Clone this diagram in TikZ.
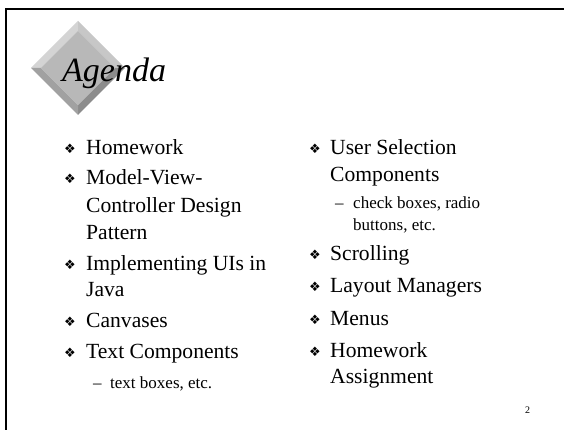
\documentclass[tikz,border=0pt]{standalone}
\usepackage{fontspec}
\setmainfont{Liberation Serif}
\newfontfamily\dingfont{DejaVu Sans}

\begin{document}
\begin{tikzpicture}[x=1pt,y=-1pt]
\tikzstyle{every node}+=[inner sep=0pt,anchor=base west]
\tikzstyle{itemtext}=[font=\fontsize{21.6}{26}\selectfont]
\tikzstyle{subtext}=[font=\fontsize{17}{20}\selectfont]
\tikzstyle{bul}=[font=\dingfont\fontsize{13}{13}\selectfont]
\useasboundingbox (0,0) rectangle (564,430);
\fill [white] (0,0) rectangle (564,430);
% frame
\draw [black, line width=2pt] (5.7,430) -- (5.7,9.2) -- (564,9.2);
% bevelled diamond
\coordinate (ot) at (78,21);
\coordinate (orr) at (125,68);
\coordinate (ob) at (78,115);
\coordinate (ol) at (31,68);
\coordinate (it) at (78,31);
\coordinate (ir) at (115,68);
\coordinate (ib) at (78,105);
\coordinate (il) at (41,68);
\fill [black!17] (ol) -- (ot) -- (it) -- (il) -- cycle;
\fill [black!22] (ot) -- (orr) -- (ir) -- (it) -- cycle;
\fill [black!45] (orr) -- (ob) -- (ib) -- (ir) -- cycle;
\fill [black!37] (ob) -- (ol) -- (il) -- (ib) -- cycle;
\fill [black!28] (it) -- (ir) -- (ib) -- (il) -- cycle;
\draw (62,81.5) node (title) [font=\fontsize{34}{34}\selectfont\itshape] {Agenda};
% left column
\draw (64,154) node (b1) [bul] {❖};
\draw (86,155) node (hw) [itemtext] {Homework};
\draw (64,184) node (b2) [bul] {❖};
\draw (86,185) node (mvc1) [itemtext] {Model-View-};
\draw (86,212) node (mvc2) [itemtext] {Controller Design};
\draw (86,239) node (mvc3) [itemtext] {Pattern};
\draw (64,269) node (b3) [bul] {❖};
\draw (86,270) node (impl1) [itemtext] {Implementing UIs in};
\draw (86,296) node (impl2) [itemtext] {Java};
\draw (64,326) node (b4) [bul] {❖};
\draw (86,327) node (canv) [itemtext] {Canvases};
\draw (64,357) node (b5) [bul] {❖};
\draw (86,358) node (txt) [itemtext] {Text Components};
\draw (93,388) node (d1) [subtext] {–};
\draw (110,388) node (txtsub) [subtext] {text boxes, etc.};
% right column
\draw (309,154) node (b6) [bul] {❖};
\draw (330,155) node (sel1) [itemtext] {User Selection};
\draw (330,182) node (sel2) [itemtext] {Components};
\draw (335,209) node (d2) [subtext] {–};
\draw (353,209) node (selsub1) [subtext] {check boxes, radio};
\draw (353,230) node (selsub2) [subtext] {buttons, etc.};
\draw (309,259) node (b7) [bul] {❖};
\draw (330,260) node (scr) [itemtext] {Scrolling};
\draw (309,291) node (b8) [bul] {❖};
\draw (330,292) node (lay) [itemtext] {Layout Managers};
\draw (309,324) node (b9) [bul] {❖};
\draw (330,325) node (men) [itemtext] {Menus};
\draw (309,356) node (b10) [bul] {❖};
\draw (330,357) node (asg1) [itemtext] {Homework};
\draw (330,383) node (asg2) [itemtext] {Assignment};
% page number
\draw (525,413) node (pg) [font=\fontsize{10}{10}\selectfont] {2};
\end{tikzpicture}
\end{document}
